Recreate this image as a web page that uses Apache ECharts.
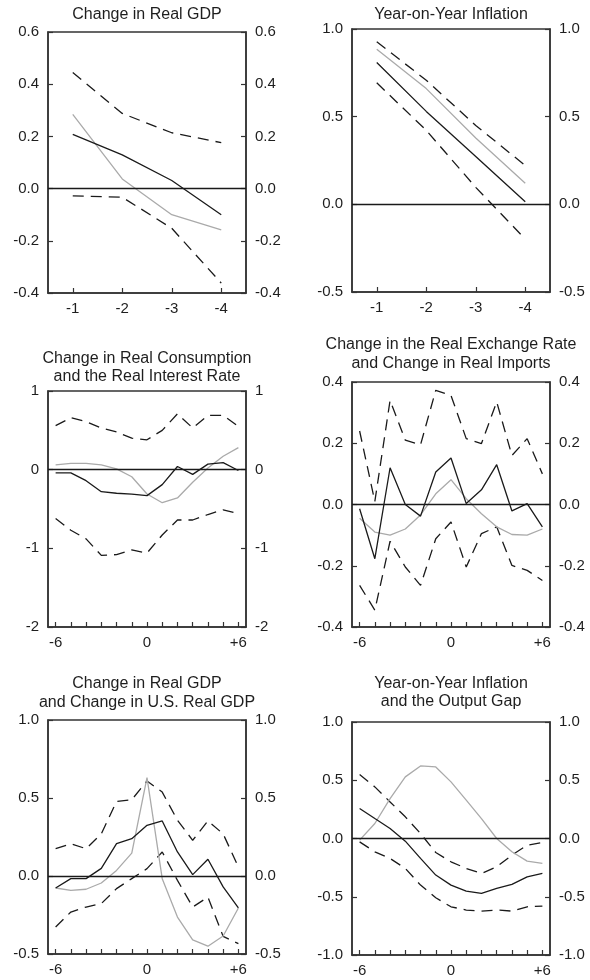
<!DOCTYPE html>
<html>
<head>
<meta charset="utf-8">
<script src="https://cdn.jsdelivr.net/npm/echarts@6/dist/echarts.min.js"></script>
<style>
html,body{margin:0;padding:0;background:#fff;}
#c{width:590px;height:980px;}
</style>
</head>
<body>
<div id="c"></div>
<script>
// ---------- categories ----------
var catsShort = ['-1', '-2', '-3', '-4'];
var catsLong = ['-6', '-5', '-4', '-3', '-2', '-1', '0', '1', '2', '3', '4', '5', '+6'];

// ---------- titles ----------
var titles = [
  'Change in Real GDP',
  'Year-on-Year Inflation',
  'Change in Real Consumption\nand the Real Interest Rate',
  'Change in the Real Exchange Rate\nand Change in Real Imports',
  'Change in Real GDP\nand Change in U.S. Real GDP',
  'Year-on-Year Inflation\nand the Output Gap'
];

// ---------- y tick labels ----------
var p1Ticks = [-0.4, -0.2, 0.0, 0.2, 0.4, 0.6];
var p2Ticks = [-0.5, 0.0, 0.5, 1.0];
var p3Ticks = [-2, -1, 0, 1];
var p4Ticks = [-0.4, -0.2, 0.0, 0.2, 0.4];
var p5Ticks = [-0.5, 0.0, 0.5, 1.0];
var p6Ticks = [-1.0, -0.5, 0.0, 0.5, 1.0];

// ---------- panel 1: Change in Real GDP ----------
var p1Black = [0.208, 0.129, 0.031, -0.100];
var p1Gray  = [0.284, 0.037, -0.100, -0.158];
var p1Upper = [0.445, 0.288, 0.214, 0.176];
var p1Lower = [-0.028, -0.033, -0.152, -0.362];

// ---------- panel 2: Year-on-Year Inflation ----------
var p2Black = [0.809, 0.530, 0.273, 0.015];
var p2Gray  = [0.885, 0.660, 0.378, 0.120];
var p2Upper = [0.927, 0.708, 0.450, 0.221];
var p2Lower = [0.693, 0.422, 0.097, -0.198];

// ---------- panel 3: Real Consumption and Real Interest Rate ----------
var p3Black = [-0.04, -0.04, -0.14, -0.28, -0.30, -0.31, -0.33, -0.19, 0.04, -0.06, 0.07, 0.09, -0.01];
var p3Gray  = [0.06, 0.08, 0.08, 0.06, 0.01, -0.09, -0.31, -0.42, -0.36, -0.16, 0.02, 0.17, 0.28];
var p3Upper = [0.56, 0.66, 0.61, 0.53, 0.48, 0.40, 0.38, 0.50, 0.71, 0.53, 0.69, 0.69, 0.55];
var p3Lower = [-0.62, -0.77, -0.88, -1.09, -1.08, -1.02, -1.06, -0.83, -0.64, -0.64, -0.57, -0.51, -0.56];

// ---------- panel 4: Real Exchange Rate and Real Imports ----------
var p4Black = [-0.014, -0.177, 0.120, 0.000, -0.038, 0.106, 0.152, 0.003, 0.048, 0.130, -0.021, 0.003, -0.073];
var p4Gray  = [-0.045, -0.090, -0.100, -0.080, -0.034, 0.035, 0.081, 0.019, -0.030, -0.073, -0.098, -0.100, -0.080];
var p4Upper = [0.240, 0.010, 0.340, 0.210, 0.195, 0.373, 0.356, 0.215, 0.199, 0.335, 0.160, 0.215, 0.100];
var p4Lower = [-0.264, -0.345, -0.120, -0.204, -0.264, -0.112, -0.057, -0.204, -0.095, -0.073, -0.199, -0.215, -0.248];

// ---------- panel 5: Real GDP and U.S. Real GDP ----------
var p5Black = [-0.077, -0.017, -0.017, 0.049, 0.207, 0.239, 0.325, 0.353, 0.154, 0.009, 0.107, -0.070, -0.205];
var p5Gray  = [-0.077, -0.092, -0.085, -0.045, 0.036, 0.147, 0.630, -0.017, -0.263, -0.410, -0.450, -0.385, -0.205];
var p5Upper = [0.175, 0.207, 0.175, 0.270, 0.478, 0.489, 0.609, 0.538, 0.357, 0.229, 0.353, 0.270, 0.058];
var p5Lower = [-0.327, -0.231, -0.199, -0.177, -0.081, -0.017, 0.047, 0.154, -0.028, -0.199, -0.135, -0.387, -0.434];

// ---------- panel 6: Inflation and Output Gap ----------
var p6Black = [0.257, 0.171, 0.086, -0.023, -0.171, -0.314, -0.400, -0.451, -0.471, -0.429, -0.394, -0.329, -0.300];
var p6Gray  = [-0.014, 0.129, 0.343, 0.529, 0.623, 0.614, 0.486, 0.329, 0.171, 0.000, -0.114, -0.194, -0.214];
var p6Upper = [0.549, 0.443, 0.314, 0.186, 0.043, -0.120, -0.200, -0.257, -0.300, -0.243, -0.143, -0.057, -0.035];
var p6Lower = [-0.029, -0.114, -0.171, -0.257, -0.400, -0.509, -0.586, -0.614, -0.623, -0.614, -0.623, -0.586, -0.580];

var panels = [
  {cats: catsShort, ticks: p1Ticks, dec: 1, black: p1Black, gray: p1Gray, upper: p1Upper, lower: p1Lower},
  {cats: catsShort, ticks: p2Ticks, dec: 1, black: p2Black, gray: p2Gray, upper: p2Upper, lower: p2Lower},
  {cats: catsLong, ticks: p3Ticks, dec: 0, black: p3Black, gray: p3Gray, upper: p3Upper, lower: p3Lower},
  {cats: catsLong, ticks: p4Ticks, dec: 1, black: p4Black, gray: p4Gray, upper: p4Upper, lower: p4Lower},
  {cats: catsLong, ticks: p5Ticks, dec: 1, black: p5Black, gray: p5Gray, upper: p5Upper, lower: p5Lower},
  {cats: catsLong, ticks: p6Ticks, dec: 1, black: p6Black, gray: p6Gray, upper: p6Upper, lower: p6Lower}
];

// layout (pixels)
var boxes = [
  {left: 48, top: 32, width: 198, height: 261, tx: 147, ty: 15},
  {left: 352, top: 29, width: 198, height: 263, tx: 451, ty: 15},
  {left: 48, top: 391, width: 198, height: 236, tx: 147, ty: 367.5},
  {left: 352, top: 382, width: 198, height: 245, tx: 451, ty: 354},
  {left: 48, top: 720, width: 198, height: 234, tx: 147, ty: 693},
  {left: 352, top: 722, width: 198, height: 233, tx: 451, ty: 692.5}
];

var FONT = '"Liberation Sans", Arial, Helvetica, sans-serif';
var AX = '#333';
var TXT = '#1e1e1e';

var grids = [], xAxes = [], yAxes = [], series = [], graphics = [];

panels.forEach(function (p, i) {
  var b = boxes[i];
  grids.push({left: b.left, top: b.top, width: b.width, height: b.height,
    show: true, borderColor: AX, borderWidth: 1.5, backgroundColor: 'transparent'});
  var isLong = p.cats.length > 4;
  xAxes.push({
    type: 'category', gridIndex: i, data: p.cats, boundaryGap: true, position: 'bottom',
    axisLine: {show: true, onZero: false, lineStyle: {color: AX, width: 1.5}},
    axisTick: {show: true, inside: true, length: 5, alignWithLabel: true, interval: 0,
      lineStyle: {color: AX, width: 1.2}},
    axisLabel: {show: true, color: TXT, fontFamily: FONT, fontSize: 15, margin: 8,
      interval: isLong ? function (idx) { return idx % 6 === 0; } : 0},
    splitLine: {show: false}
  });
  var mn = p.ticks[0], mx = p.ticks[p.ticks.length - 1], iv = p.ticks[1] - p.ticks[0];
  var fmt = (function (d) { return function (v) { return (Math.abs(v) < 1e-9 ? 0 : v).toFixed(d); }; })(p.dec);
  ['left', 'right'].forEach(function (pos) {
    yAxes.push({
      type: 'value', gridIndex: i, position: pos, min: mn, max: mx, interval: iv,
      axisLine: {show: true, onZero: false, lineStyle: {color: AX, width: 1.5}},
      axisTick: {show: true, inside: true, length: 5, lineStyle: {color: AX, width: 1.2}},
      axisLabel: {show: true, color: TXT, fontFamily: FONT, fontSize: 15, margin: 9, formatter: fmt},
      splitLine: {show: false}
    });
  });
  var yi = i * 2;
  var dashStyle = {color: '#1a1a1a', width: 1.3, type: [11, 7]};
  series.push({type: 'line', xAxisIndex: i, yAxisIndex: yi, data: p.upper, symbol: 'none',
    lineStyle: dashStyle, silent: true, animation: false});
  series.push({type: 'line', xAxisIndex: i, yAxisIndex: yi, data: p.lower, symbol: 'none',
    lineStyle: dashStyle, silent: true, animation: false});
  series.push({type: 'line', xAxisIndex: i, yAxisIndex: yi, data: p.gray, symbol: 'none',
    lineStyle: {color: '#aaaaaa', width: 1.3}, silent: true, animation: false});
  series.push({type: 'line', xAxisIndex: i, yAxisIndex: yi, data: p.black, symbol: 'none',
    lineStyle: {color: '#1a1a1a', width: 1.3}, silent: true, animation: false,
    markLine: {silent: true, symbol: ['none', 'none'], animation: false, label: {show: false},
      lineStyle: {color: '#1a1a1a', type: 'solid', width: 1.3}, data: [{yAxis: 0}]}});
  graphics.push({type: 'text', x: b.tx, y: b.ty, silent: true,
    style: {text: titles[i], fill: TXT, font: '16px ' + FONT, align: 'center',
      verticalAlign: 'middle', lineHeight: 18.5}});
});

var chart = echarts.init(document.getElementById('c'), null, {renderer: 'canvas'});
chart.setOption({
  animation: false,
  backgroundColor: '#fff',
  grid: grids,
  xAxis: xAxes,
  yAxis: yAxes,
  series: series,
  graphic: graphics
});
</script>
</body>
</html>
